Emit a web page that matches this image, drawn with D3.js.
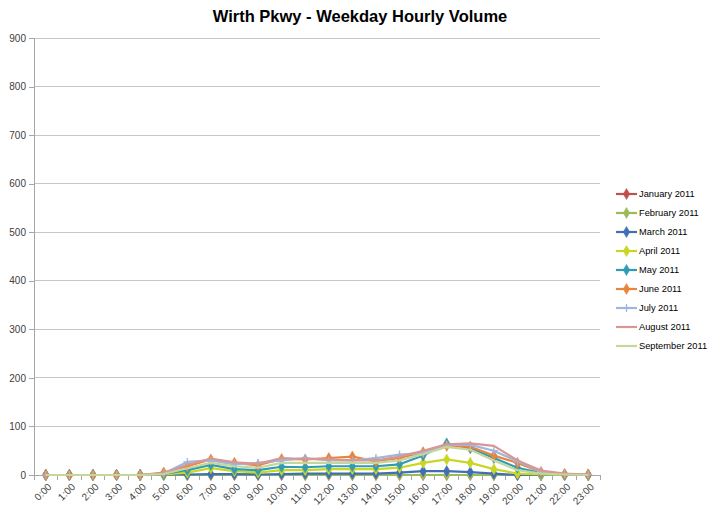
<!DOCTYPE html>
<html>
<head>
<meta charset="utf-8">
<script src="https://cdn.jsdelivr.net/npm/d3@7"></script>
<style>
  html, body { margin: 0; padding: 0; background: #fff; }
  svg { display: block; }
</style>
</head>
<body>
<div id="chart"></div>
<script>
// Hour-of-day categories
const hours = ["0:00","1:00","2:00","3:00","4:00","5:00","6:00","7:00","8:00","9:00","10:00","11:00",
               "12:00","13:00","14:00","15:00","16:00","17:00","18:00","19:00","20:00","21:00","22:00","23:00"];

const yTicks = [0, 100, 200, 300, 400, 500, 600, 700, 800, 900];

// Average weekday volume per hour, one array per month
const jan2011 = [0,0,0,0,0,0,0,0,0,0,0,0,0,0,0,0,0,0,0,0,0,0,0,0];
const feb2011 = [0,0,0,0,0,0,0,0,0,0,0,0,0,0,0,0,0,0,0,0,0,0,0,0];
const mar2011 = [0,0,0,0,0,1,1,2,2,1,2,3,3,3,3,5,8,8,6,3,0,0,0,0];
const apr2011 = [0,0,0,0,0,1,5,14,8,5,10,10,12,12,12,15,25,32,25,12,3,1,0,0];
const may2011 = [0,0,0,0,0,2,10,21,12,10,17,16,18,18,18,22,40,65,55,35,15,4,1,0];
const jun2011 = [0,0,0,0,0,5,18,32,25,20,33,32,35,38,28,35,47,60,58,40,25,6,2,1];
const jul2011 = [0,0,0,0,0,3,27,30,22,25,30,35,30,30,35,42,45,62,62,50,28,7,2,1];
const aug2011 = [0,0,0,0,0,3,21,34,26,23,35,33,32,30,30,38,50,63,65,60,30,9,3,1];
const sep2011 = [0,0,0,0,0,2,14,25,18,15,25,25,25,25,25,30,43,58,52,30,10,3,1,0];

const seriesNames = ["January 2011","February 2011","March 2011","April 2011","May 2011",
                     "June 2011","July 2011","August 2011","September 2011"];
const seriesValues = [jan2011, feb2011, mar2011, apr2011, may2011, jun2011, jul2011, aug2011, sep2011];
const seriesColors = ["#c0504d","#9bbb59","#3f6fb5","#c9d626","#2e9cb3","#e9843e","#9db7e0","#d99694","#c3d69b"];
const seriesMarkers = ["diamond","diamond","diamond","diamond","diamond","diamond","plus","none","none"];

const W = 710, H = 508;
const margin = { left: 34, right: 110, top: 38, bottom: 33 };
const plotW = W - margin.left - margin.right;
const plotH = H - margin.top - margin.bottom;

const svg = d3.select("#chart").append("svg")
  .attr("width", W).attr("height", H)
  .style("font-family", "'Liberation Sans', Arial, sans-serif");

// Title
svg.append("text")
  .attr("x", 360).attr("y", 22)
  .attr("text-anchor", "middle")
  .style("font-weight", "bold")
  .style("font-size", "16.5px")
  .attr("fill", "#000")
  .text("Wirth Pkwy - Weekday Hourly Volume");

const g = svg.append("g").attr("transform", `translate(${margin.left},${margin.top})`);

const x = d3.scaleBand().domain(hours).range([0, plotW]).paddingInner(0).paddingOuter(0);
const y = d3.scaleLinear().domain([0, 900]).range([plotH, 0]);
const cx = h => x(h) + x.bandwidth() / 2;

// Horizontal gridlines
g.append("g")
  .selectAll("line")
  .data(yTicks.filter(t => t > 0))
  .join("line")
  .attr("x1", 0).attr("x2", plotW)
  .attr("y1", d => y(d)).attr("y2", d => y(d))
  .attr("stroke", "#c6c6c6").attr("stroke-width", 1)
  .attr("shape-rendering", "crispEdges");

// Y axis
const yAxis = g.append("g")
  .call(d3.axisLeft(y).tickValues(yTicks).tickSize(5).tickPadding(3));
yAxis.select(".domain").attr("stroke", "#a6a6a6").attr("shape-rendering", "crispEdges");
yAxis.selectAll(".tick line").attr("stroke", "#a6a6a6").attr("shape-rendering", "crispEdges");
yAxis.selectAll(".tick text").attr("fill", "#404040").style("font-size", "10px");

// X axis with tick marks between categories; labels rotated 45 degrees
const xAxis = g.append("g").attr("transform", `translate(0,${plotH})`)
  .call(d3.axisBottom(x).tickSize(0).tickPadding(0));
xAxis.select(".domain").attr("stroke", "#a6a6a6").attr("shape-rendering", "crispEdges");
xAxis.selectAll(".tick text")
  .attr("fill", "#404040")
  .style("font-size", "10px")
  .attr("text-anchor", "end")
  .attr("x", 0).attr("y", 0).attr("dy", "0.35em")
  .attr("transform", "translate(4,10) rotate(-45)");
xAxis.append("g").selectAll("line")
  .data(d3.range(hours.length + 1))
  .join("line")
  .attr("x1", i => i * x.bandwidth()).attr("x2", i => i * x.bandwidth())
  .attr("y1", 0).attr("y2", 5)
  .attr("stroke", "#a6a6a6")
  .attr("shape-rendering", "crispEdges");

// Series lines and markers
const line = d3.line().x((d, i) => cx(hours[i])).y(d => y(d));
const diamond = d3.symbol().type(d3.symbolDiamond).size(36);

function drawMarker(sel, kind, color) {
  if (kind === "diamond") {
    sel.append("path").attr("d", diamond()).attr("fill", color).attr("stroke", color).attr("stroke-width", 0.5);
  } else if (kind === "plus") {
    sel.append("path").attr("d", "M-4,0H4M0,-4V4").attr("stroke", color).attr("stroke-width", 1.3).attr("fill", "none");
  }
}

seriesValues.forEach((vals, si) => {
  const color = seriesColors[si];
  const sg = g.append("g");
  sg.append("path")
    .datum(vals)
    .attr("d", line)
    .attr("fill", "none")
    .attr("stroke", color)
    .attr("stroke-width", 2.2)
    .attr("stroke-linejoin", "round");
  if (seriesMarkers[si] !== "none") {
    vals.forEach((v, i) => {
      const m = sg.append("g").attr("transform", `translate(${cx(hours[i])},${y(v)})`);
      drawMarker(m, seriesMarkers[si], color);
    });
  }
});

// Legend
const legend = svg.append("g").attr("transform", "translate(616,194)");
seriesNames.forEach((name, i) => {
  const row = legend.append("g").attr("transform", `translate(0,${i * 19})`);
  row.append("line").attr("x1", 0).attr("x2", 21).attr("y1", 0).attr("y2", 0)
    .attr("stroke", seriesColors[i]).attr("stroke-width", 2.2);
  if (seriesMarkers[i] !== "none") {
    const m = row.append("g").attr("transform", "translate(10.5,0)");
    drawMarker(m, seriesMarkers[i], seriesColors[i]);
  }
  row.append("text").attr("x", 23).attr("y", 0).attr("dy", "0.35em")
    .style("font-size", "9.3px")
    .attr("fill", "#000")
    .text(name);
});
</script>
</body>
</html>
